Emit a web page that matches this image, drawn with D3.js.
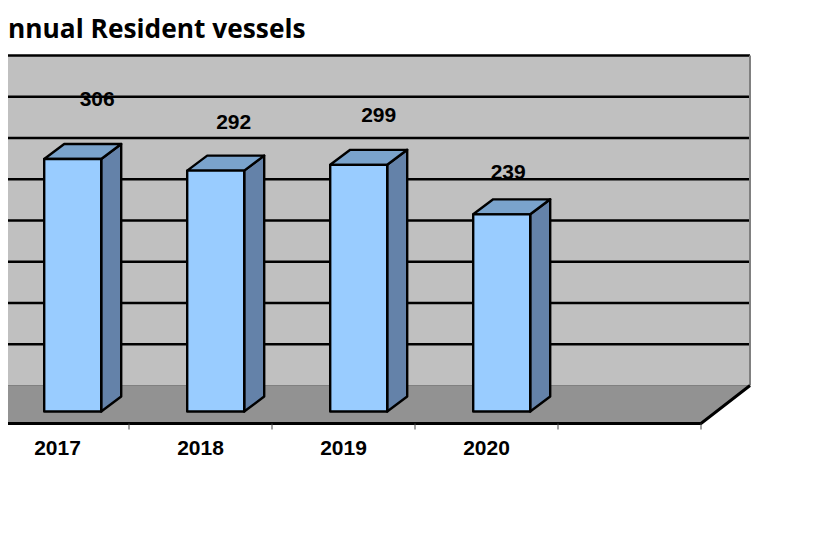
<!DOCTYPE html>
<html><head><meta charset="utf-8">
<script src="https://cdn.jsdelivr.net/npm/d3@7/dist/d3.min.js"></script>
<style>html,body{margin:0;padding:0;background:#fff}svg{display:block}</style>
</head><body><svg id="c" width="834" height="541"></svg>
<script>
const titleText = "nnual Resident vessels";
const categories = ["2017","2018","2019","2020",""];
const values = [306,292,299,239];
const gridTicks = [0,50,100,150,200,250,300,350,400];
// hand placement of the data labels, as in the reference (dx, dy from the bar's top-front)
const labelNudges = [[24.5,-60],[18,-48],[20,-50],[6.5,-42]];

const svg = d3.select("#c");
const M = {left:-14, right:701, floorFront:423.5, depthX:49, depthY:38, clipLeft:8};
const x = d3.scaleBand().domain(categories).range([M.left,M.right]).padding(0);
const y = d3.scaleLinear().domain([0,400]).range([0,-330]);
const wallBase = M.floorFront - M.depthY;
const barBase = 411.5, barW = 57, barShift = 15.2, dX = 20, dY = 15;
const line = d3.line();

svg.append("defs").append("clipPath").attr("id","clipL").append("rect")
  .attr("x",M.clipLeft).attr("y",0).attr("width",834).attr("height",541);
const g = svg.append("g").attr("clip-path","url(#clipL)");

// wall
const wallLeft = M.left + M.depthX, wallRight = M.right + M.depthX;
g.append("rect").attr("x",wallLeft).attr("y",wallBase+y(400))
  .attr("width",wallRight-wallLeft).attr("height",-y(400)).attr("fill","#c0c0c0");
g.selectAll("line.grid").data(gridTicks.slice(1)).join("line").attr("class","grid")
  .attr("x1",M.clipLeft).attr("x2",wallRight)
  .attr("y1",d=>wallBase+y(d)).attr("y2",d=>wallBase+y(d))
  .attr("stroke","#000").attr("stroke-width",2.4);
g.append("rect").attr("x",M.clipLeft).attr("y",wallBase+y(400))
  .attr("width",wallLeft-M.clipLeft).attr("height",-y(400)).attr("fill","#c0c0c0").lower();
g.append("line").attr("x1",wallRight).attr("x2",wallRight)
  .attr("y1",wallBase+y(400)).attr("y2",wallBase)
  .attr("stroke","#808080").attr("stroke-width",2);

// floor
g.append("path").attr("d",line([[M.left,wallBase],[wallRight,wallBase],[M.right,M.floorFront],[M.left,M.floorFront]])+"Z")
  .attr("fill","#929292");
g.append("line").attr("x1",M.clipLeft).attr("x2",wallRight).attr("y1",wallBase).attr("y2",wallBase)
  .attr("stroke","#808080").attr("stroke-width",1);
g.append("path").attr("d",line([[M.left,M.floorFront],[M.right,M.floorFront],[wallRight,wallBase]]))
  .attr("fill","none").attr("stroke","#000").attr("stroke-width",3);

// ticks
const tickXs = categories.map(c=>x(c)+x.bandwidth());
g.selectAll("line.tick").data(tickXs).join("line").attr("class","tick")
  .attr("x1",d=>d).attr("x2",d=>d).attr("y1",M.floorFront).attr("y2",M.floorFront+6)
  .attr("stroke","#444").attr("stroke-width",1);

// bars
const bars = g.selectAll("g.bar").data(values).join("g").attr("class","bar");
const barLeft = (d,i)=>x(categories[i])+x.bandwidth()/2+barShift-barW/2;
const barTop = d=>barBase+y(d);
const st = s=>s.attr("stroke","#000").attr("stroke-width",2.4).attr("stroke-linejoin","round");
st(bars.append("path").attr("fill","#6482a9").attr("d",(d,i)=>{const l=barLeft(d,i)+barW,t=barTop(d);
  return line([[l,t],[l+dX,t-dY],[l+dX,barBase-dY],[l,barBase]])+"Z";}));
st(bars.append("path").attr("fill","#7aa3cc").attr("d",(d,i)=>{const l=barLeft(d,i),t=barTop(d);
  return line([[l,t],[l+dX,t-dY],[l+barW+dX,t-dY],[l+barW,t]])+"Z";}));
st(bars.append("rect").attr("fill","#99ccff").attr("x",(d,i)=>barLeft(d,i)).attr("y",barTop)
  .attr("width",barW).attr("height",d=>barBase-barTop(d)));

// labels
const labelFont = "'Liberation Sans',Arial,sans-serif";
g.selectAll("text.val").data(values).join("text").attr("class","val")
  .attr("x",(d,i)=>barLeft(d,i)+barW/2+labelNudges[i][0])
  .attr("y",(d,i)=>barTop(d)+labelNudges[i][1]+6.8)
  .attr("text-anchor","middle").attr("font-family",labelFont).attr("font-weight",700)
  .attr("font-size",21).attr("fill","#000").text(d=>d);
g.selectAll("text.cat").data(categories.filter(c=>c)).join("text").attr("class","cat")
  .attr("x",d=>x(d)+x.bandwidth()/2).attr("y",455)
  .attr("text-anchor","middle").attr("font-family",labelFont).attr("font-weight",700)
  .attr("font-size",21).attr("fill","#000").text(d=>d);

svg.append("text").attr("x",8).attr("y",38).attr("font-family","'Open Sans',Lato,sans-serif")
  .attr("font-weight",700).attr("font-size",26.3).attr("fill","#000").text(titleText);
</script></body></html>
